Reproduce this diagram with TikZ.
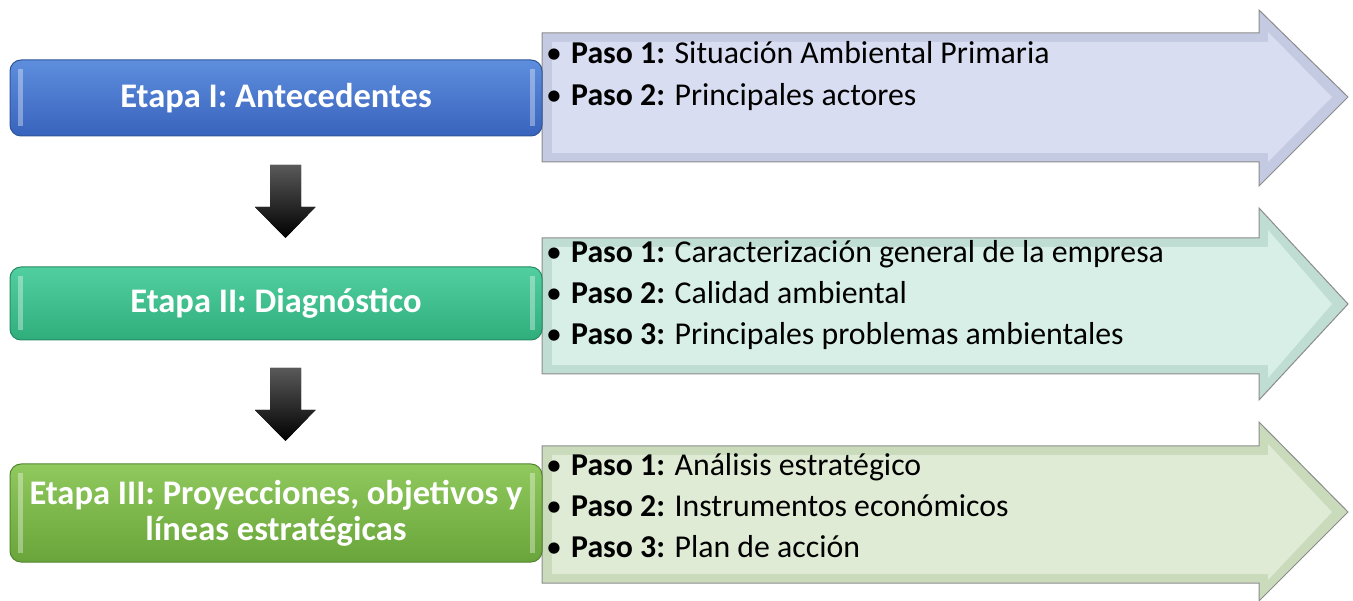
\documentclass[tikz,border=0pt]{standalone}
\usepackage{fontspec}
\setmainfont{Carlito}
\definecolor{b1top}{HTML}{5E8EDD}
\definecolor{b1bot}{HTML}{3863BD}
\definecolor{b1line}{HTML}{2F5597}
\definecolor{b2top}{HTML}{52CFA0}
\definecolor{b2bot}{HTML}{2FAE7C}
\definecolor{b2line}{HTML}{268A62}
\definecolor{b3top}{HTML}{90C95E}
\definecolor{b3bot}{HTML}{69A53A}
\definecolor{b3line}{HTML}{538530}
\definecolor{a1fill}{HTML}{D9DDF1}
\definecolor{a1edge}{HTML}{C4CAE2}
\definecolor{a2fill}{HTML}{D8EFE8}
\definecolor{a2edge}{HTML}{C0DDD3}
\definecolor{a3fill}{HTML}{E0EBD6}
\definecolor{a3edge}{HTML}{CADBBC}
\definecolor{frame}{HTML}{8C8C8C}
\newcommand{\bul}{\makebox[25pt][l]{\textbullet}}
\begin{document}
\begin{tikzpicture}[x=1pt,y=-1pt,
  etapabox/.style={rounded corners=11pt, line width=1pt, minimum width=532pt, align=center,
    text=white, font=\fontsize{34.5}{36}\selectfont\bfseries, inner sep=1pt},
  bigarrow/.style={draw=frame, line width=1pt, line join=miter},
  stepline/.style={anchor=base west, inner sep=0pt, font=\fontsize{31.8}{38}\selectfont},
  downarrow/.style={top color=black!65, bottom color=black, draw=none}
]
\useasboundingbox (0,0) rectangle (1353,601);

% ---- big arrows (right side) ----
\draw[bigarrow, fill=a1edge] (542,33) coordinate (p1) -- (1259,33) -- (1259,10) -- (1348,97) coordinate (t1) -- (1259,186) -- (1259,162) -- (542,162) -- cycle;
\fill[a1fill] (552,42) -- (1268,42) -- (1268,32) -- (1332,97) -- (1268,162) -- (1268,153) -- (552,153) -- cycle;

\draw[bigarrow, fill=a2edge] (542,238) coordinate (p2) -- (1259,238) -- (1259,208) -- (1348,304) coordinate (t2) -- (1259,400) -- (1259,374) -- (542,374) -- cycle;
\fill[a2fill] (552,247) -- (1268,247) -- (1268,230) -- (1332,304) -- (1268,378) -- (1268,365) -- (552,365) -- cycle;

\draw[bigarrow, fill=a3edge] (542,446) coordinate (p3) -- (1259,446) -- (1259,422) -- (1348,512) coordinate (t3) -- (1259,601) -- (1259,583) -- (542,583) -- cycle;
\fill[a3fill] (552,455) -- (1268,455) -- (1268,444) -- (1332,512) -- (1268,580) -- (1268,574) -- (552,574) -- cycle;

% ---- step texts ----
\node[stepline] (s11) at (546,64) {\bul\textbf{Paso 1:} Situación Ambiental Primaria};
\node[stepline] (s12) at (546,106) {\bul\textbf{Paso 2:} Principales actores};
\node[stepline] (s21) at (546,263) {\bul\textbf{Paso 1:} Caracterización general de la empresa};
\node[stepline] (s22) at (546,304) {\bul\textbf{Paso 2:} Calidad ambiental};
\node[stepline] (s23) at (546,345) {\bul\textbf{Paso 3:} Principales problemas ambientales};
\node[stepline] (s31) at (546,476) {\bul\textbf{Paso 1:} Análisis estratégico};
\node[stepline] (s32) at (546,517) {\bul\textbf{Paso 2:} Instrumentos económicos};
\node[stepline] (s33) at (546,558) {\bul\textbf{Paso 3:} Plan de acción};

% ---- left stage boxes ----
\node[etapabox, draw=b1line, top color=b1top, bottom color=b1bot, minimum height=76pt] (e1) at (276,98) {Etapa I: Antecedentes};
\node[etapabox, draw=b2line, top color=b2top, bottom color=b2bot, minimum height=73pt] (e2) at (276,303.5) {Etapa II: Diagnóstico};
\node[etapabox, draw=b3line, top color=b3top, bottom color=b3bot, minimum height=98pt] (e3) at (276,513) {Etapa III: Proyecciones, objetivos y\\ líneas estratégicas};

% bevel highlights
\foreach \n in {e1,e2,e3}{
  \fill[white, opacity=0.35] ([xshift=8pt,yshift=-10pt]\n.north west) rectangle ([xshift=13pt,yshift=10pt]\n.south west);
  \fill[white, opacity=0.35] ([xshift=-13pt,yshift=-10pt]\n.north east) rectangle ([xshift=-8pt,yshift=10pt]\n.south east);
}

% ---- down arrows ----
\coordinate (d1) at (285.5,165);
\fill[downarrow] (d1) ++(-15.5,0) -- ++(31,0) -- ++(0,42) -- ++(14.5,0) -- (285.5,238) -- (255,207) -- (270,207) -- cycle;
\coordinate (d2) at (285.5,368);
\fill[downarrow] (d2) ++(-15.5,0) -- ++(31,0) -- ++(0,42) -- ++(14.5,0) -- (285.5,441) -- (255,410) -- (270,410) -- cycle;
\end{tikzpicture}
\end{document}
